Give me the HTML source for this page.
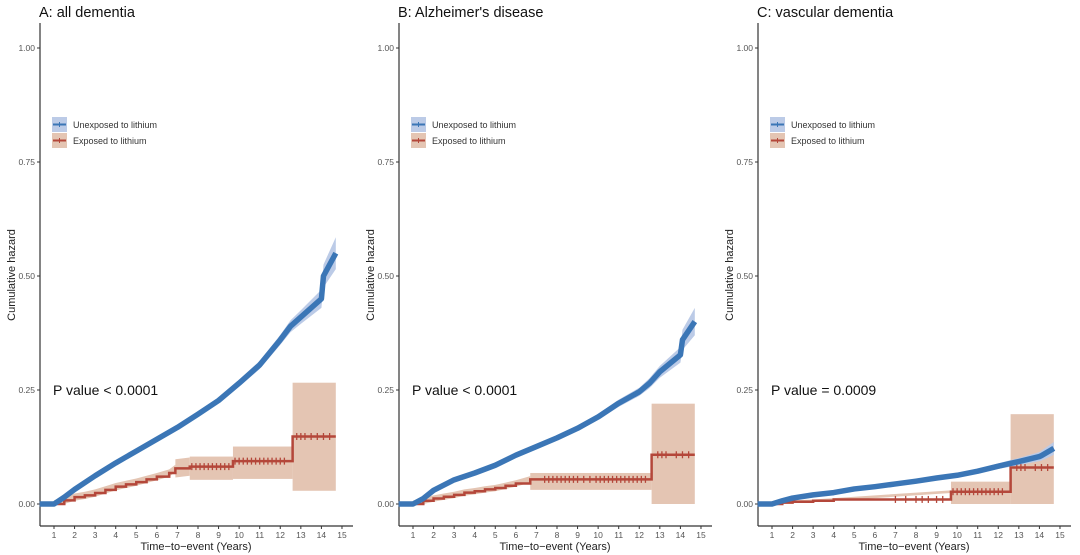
<!DOCTYPE html>
<html><head><meta charset="utf-8"><style>
html,body{margin:0;padding:0;background:#fff;}
svg{display:block;font-family:"Liberation Sans",sans-serif;}
</style></head><body>
<svg id="chart" width="1080" height="555" viewBox="0 0 1080 555"></svg>
<script>
const xTicks=[1,2,3,4,5,6,7,8,9,10,11,12,13,14,15];
const yTicks=[0,0.25,0.5,0.75,1];
const yTickLabels=["0.00","0.25","0.50","0.75","1.00"];
const panelTitles=["A: all dementia","B: Alzheimer's disease","C: vascular dementia"];
const pLabels=["P value < 0.0001","P value < 0.0001","P value = 0.0009"];
// Unexposed (blue) cumulative hazard: times and values
const blueT=[1,1.5,2,3,4,5,6,7,8,9,10,11,12,12.5,13,14,14.1,14.7];
const blueA=[0,0.015,0.032,0.062,0.09,0.116,0.142,0.168,0.197,0.227,0.265,0.305,0.36,0.39,0.41,0.45,0.5,0.55];
const blueB=[0,0.012,0.03,0.053,0.068,0.085,0.107,0.126,0.145,0.166,0.191,0.221,0.246,0.265,0.29,0.327,0.36,0.40];
const blueC=[0,0.007,0.013,0.02,0.025,0.033,0.038,0.044,0.05,0.057,0.063,0.072,0.083,0.088,0.093,0.104,0.106,0.122];
const blueCiA=[0,0.002,0.003,0.004,0.004,0.005,0.005,0.006,0.006,0.007,0.008,0.009,0.011,0.013,0.015,0.02,0.025,0.035];
const blueCiB=[0,0.002,0.003,0.003,0.004,0.004,0.005,0.005,0.006,0.006,0.007,0.008,0.009,0.011,0.013,0.017,0.022,0.03];
const blueCiC=[0,0.001,0.002,0.002,0.002,0.003,0.003,0.003,0.004,0.004,0.004,0.005,0.006,0.007,0.008,0.01,0.011,0.014];
// Exposed (red) step function
const redTA=[0.3,1,1.5,2,2.5,3,3.5,4,4.5,5,5.5,6,6.6,6.9,7.6,9.7,12.6,14.7];
const redA=[0,0,0.008,0.015,0.019,0.024,0.031,0.038,0.043,0.048,0.054,0.06,0.068,0.078,0.082,0.094,0.148,0.148];
const redTB=[0.3,1,1.5,2,2.5,3,3.5,4,4.5,5,5.5,6,6.7,12.6,14.7];
const redB=[0,0,0.007,0.012,0.016,0.02,0.025,0.028,0.032,0.035,0.04,0.045,0.054,0.108,0.108];
const redTC=[0.3,1,1.5,2,3,4,9.7,12.6,14.7];
const redC=[0,0,0.003,0.005,0.007,0.01,0.027,0.08,0.08];
const redCiA=[[1,6.9,0.008],[6.9,7.6,0.02],[7.6,9.7,0.06,0.053,0.104],[9.7,12.6,0,0.055,0.126],[12.6,14.7,0,0.029,0.266]];
const redCiB=[[1,6.7,0.007],[6.7,12.6,0,0.031,0.068],[12.6,14.7,0,0,0.22]];
const redCiC=[[1,9.7,0.003],[9.7,12.6,0,0,0.049],[12.6,14.7,0,0,0.197]];
const censorA=[7.7,7.9,8.1,8.3,8.5,8.7,8.9,9.1,9.3,9.5,9.8,10.0,10.2,10.4,10.6,10.8,11.0,11.2,11.4,11.6,11.8,12.0,12.2,12.8,13.0,13.2,13.5,13.8,14.1,14.4];
const censorB=[7.4,7.6,7.8,8.0,8.2,8.4,8.6,8.8,9.0,9.3,9.6,9.9,10.1,10.3,10.5,10.7,10.9,11.1,11.3,11.5,11.7,11.9,12.1,12.3,12.9,13.1,13.3,13.8,14.1,14.4];
const censorC=[7,7.5,8,8.3,8.6,9,9.3,9.8,10.0,10.2,10.4,10.6,10.8,11.0,11.2,11.4,11.6,11.8,12.0,12.2,12.9,13.1,13.3,13.8,14.1,14.4];

const NS="http://www.w3.org/2000/svg";
const svg=document.getElementById('chart');
function mk(tag,attrs,parent){const e=document.createElementNS(NS,tag);for(const k in attrs)e.setAttribute(k,attrs[k]);(parent||svg).appendChild(e);return e;}
const BLUE="#3b76b6",BLUEF="#bccbe7",RED="#b4473a",REDF="#e4c5b3";
const offs=[40,399,758];
const blues=[blueA,blueB,blueC],bcis=[blueCiA,blueCiB,blueCiC];
const redTs=[redTA,redTB,redTC],reds=[redA,redB,redC],rcis=[redCiA,redCiB,redCiC],cens=[censorA,censorB,censorC];
const ids=["a","b","c"];
for(let p=0;p<3;p++){
  const ox=offs[p];
  const X=t=>ox+14+(t-1)*20.57;
  const Y=v=>504-v*456;
  const g=mk('g',{});
  
  
  const title=mk('text',{x:ox-1,y:17,'font-size':14.5,fill:'#111'},g);title.textContent=panelTitles[p];
  
  const ya=mk('line',{x1:ox,y1:23,x2:ox,y2:526,stroke:'#333','stroke-width':1.2},g);
  
  const xa=mk('line',{x1:ox,y1:526,x2:ox+313,y2:526,stroke:'#333','stroke-width':1.2},g);
  
  yTicks.forEach((v,i)=>{
    mk('line',{x1:ox-3,y1:Y(v),x2:ox,y2:Y(v),stroke:'#333'},g);
    const t=mk('text',{x:ox-5,y:Y(v)+3,'font-size':8.5,fill:'#555','text-anchor':'end'},g);t.textContent=yTickLabels[i];
    
  });
  xTicks.forEach(v=>{
    mk('line',{x1:X(v),y1:526,x2:X(v),y2:529,stroke:'#333'},g);
    const t=mk('text',{x:X(v),y:538,'font-size':8.5,fill:'#555','text-anchor':'middle'},g);t.textContent=v;
    
  });
  const xt=mk('text',{x:ox+156,y:550,'font-size':11,fill:'#222','text-anchor':'middle'},g);xt.textContent="Time\u2212to\u2212event (Years)";
  
  const yt=mk('text',{x:0,y:0,'font-size':11,fill:'#222','text-anchor':'middle',transform:`translate(${ox-25},275) rotate(-90)`},g);yt.textContent="Cumulative hazard";
  
  rcis[p].forEach(c=>{
    if(c.length===3){
      const ts=redTs[p],vs=reds[p];
      let d='';
      for(let i=0;i<ts.length;i++){if(ts[i]<c[0]||ts[i]>c[1])continue;d+=(d?'L':'M')+X(ts[i])+','+Y(vs[i]+c[2]);}
      for(let i=ts.length-1;i>=0;i--){if(ts[i]<c[0]||ts[i]>c[1])continue;d+='L'+X(ts[i])+','+Y(Math.max(0,vs[i]-c[2]));}
      const b=mk('path',{d:d+'Z',fill:REDF},g);
      
    } else {
      const r=mk('rect',{x:X(c[0]),y:Y(c[4]),width:X(c[1])-X(c[0]),height:Y(c[3])-Y(c[4]),fill:REDF},g);
      
    }
  });
  const bt=blueT,bv=blues[p],bc=bcis[p];
  let d='';
  bt.forEach((t,i)=>{d+=(i?'L':'M')+X(t)+','+Y(bv[i]+bc[i]);});
  for(let i=bt.length-1;i>=0;i--)d+='L'+X(bt[i])+','+Y(bv[i]-bc[i]);
  const bb=mk('path',{d:d+'Z',fill:BLUEF},g);
  
  const ts=redTs[p],vs=reds[p];
  let rd='M'+X(ts[0])+','+Y(vs[0]);
  for(let i=1;i<ts.length;i++){rd+='H'+X(ts[i])+'V'+Y(vs[i]);}
  const rl=mk('path',{d:rd,fill:'none',stroke:RED,'stroke-width':2.5},g);
  
  cens[p].forEach(t=>{
    let v=0;for(let i=0;i<ts.length;i++)if(ts[i]<=t)v=vs[i];
    const c=mk('line',{x1:X(t),y1:Y(v)-3.5,x2:X(t),y2:Y(v)+3.5,stroke:RED,'stroke-width':1.3},g);
    
  });
  let bd='M'+X(0.3)+','+Y(0);
  bt.forEach((t,i)=>{bd+='L'+X(t)+','+Y(bv[i]);});
  const bl=mk('path',{d:bd,fill:'none',stroke:BLUE,'stroke-width':5.5,'stroke-linejoin':'round'},g);
  
  const lg=mk('g',{},g);
  
  [[BLUEF,BLUE,"Unexposed to lithium",117],[REDF,RED,"Exposed to lithium",133]].forEach(L=>{
    mk('rect',{x:ox+12,y:L[3],width:15,height:15,fill:L[0]},lg);
    mk('line',{x1:ox+13,y1:L[3]+7.5,x2:ox+26,y2:L[3]+7.5,stroke:L[1],'stroke-width':2},lg);
    mk('line',{x1:ox+19.5,y1:L[3]+5,x2:ox+19.5,y2:L[3]+10,stroke:L[1],'stroke-width':1},lg);
    const t=mk('text',{x:ox+33,y:L[3]+11,'font-size':9,fill:'#333'},lg);t.textContent=L[2];
    
  });
  const pt=mk('text',{x:ox+13,y:395,'font-size':14,fill:'#111'},g);pt.textContent=pLabels[p];
  
}
</script>
</body></html>
